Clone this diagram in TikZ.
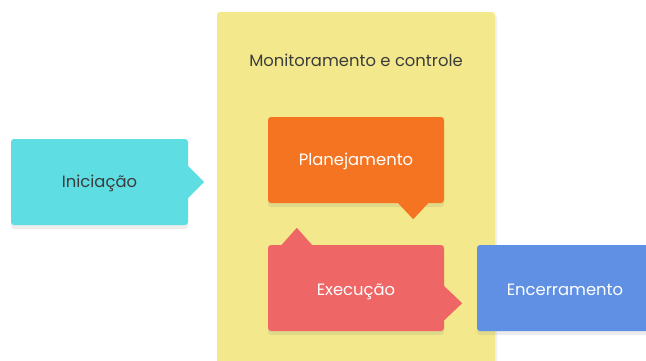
\documentclass[tikz,border=0pt]{standalone}
\usepackage{fontspec}
\setmainfont{Poppins}
\usetikzlibrary{shadows}
\definecolor{myCyan}{HTML}{5EDDE3}
\definecolor{myOrange}{HTML}{F47421}
\definecolor{myRed}{HTML}{EE6666}
\definecolor{myBlue}{HTML}{6090E3}
\definecolor{myYellow}{HTML}{F3E98C}
\definecolor{myText}{HTML}{3C3C3C}

\begin{document}
\begin{tikzpicture}[x=1pt, y=1pt]

  \tikzstyle{C}=[rectangle, rounded corners=3pt, minimum width=176pt, minimum height=86pt, inner sep=0pt, text=white, text height=11.5pt, text depth=0pt, font=\fontsize{16.4}{19}\selectfont, drop shadow={opacity=0.15, shadow xshift=0pt, shadow yshift=-4pt}]
  \tikzstyle{T}=[text=myText, font=\fontsize{16.4}{19}\selectfont]

  \useasboundingbox (0,0) rectangle (646,360);

%  panel
  \fill[myYellow, rounded corners=3pt, drop shadow={opacity=0.12, shadow xshift=2pt, shadow yshift=-3pt}] (217,-10) rectangle (495,348);
  \node[T] at (356,300) (monitor) {Monitoramento e controle};

  \node[C, fill=myCyan, text=myText, minimum width=177pt] at (99.5,178) (ini) {Iniciação};
  \fill[myCyan] (ini.east) ++(-1,17) -- ++(17,-17) -- ++(-17,-17) -- cycle;

  \node[C, fill=myOrange] at (356,200) (plan) {Planejamento};
  \fill[myOrange] (plan.south east) ++(-47,1) -- ++(16,-17) -- ++(16,17) -- cycle;

  \node[C, fill=myRed, text height=15.5pt] at (356,72) (exec) {Execução};
  \fill[myRed] (exec.north west) ++(13,-1) -- ++(16,18) -- ++(16,-18) -- cycle;
  \fill[myRed] (exec.south east) ++(-1,46) -- ++(19,-18) -- ++(-19,-18) -- cycle;

  \node[C, fill=myBlue, text height=15.5pt] at (565,72) (enc) {Encerramento};

\end{tikzpicture}
\end{document}
